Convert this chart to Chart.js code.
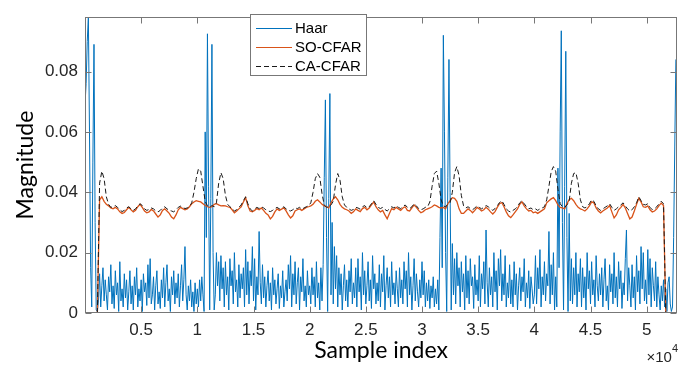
<!DOCTYPE html>
<html>
<head>
<meta charset="utf-8">
<script src="https://cdn.jsdelivr.net/npm/chart.js@4.4.1/dist/chart.umd.min.js"></script>
<style>
    html, body { margin: 0; padding: 0; background: #fff; }
    #wrap { width: 680px; height: 375px; }
</style>
</head>
<body>
<div id="wrap"><canvas id="graficoCfar" width="680" height="375"></canvas></div>
<script>
// all magnitudes below are in units of 1e-4
const unit = 1e-4;

// Haar detail magnitude, one value every 100 samples starting at 0
const haarStep = 100;
const haarMag = [
    690, 760, 900, 980, 600, 150, 20, 500, 890, 300, 10, 5, 40, 130, 20, 90, 150, 40, 110, 60,
    10, 120, 70, 160, 30, 90, 15, 140, 60, 100, 5, 170, 40, 80, 20, 130, 50, 110, 10, 70,
    140, 30, 90, 10, 120, 60, 150, 20, 80, 40, 110, 5, 130, 70, 100, 25, 160, 50, 180, 30,
    60, 120, 10, 90, 140, 30, 70, 15, 110, 50, 150, 20, 100, 160, 40, 80, 5, 120, 60, 140,
    30, 100, 50, 130, 20, 90, 160, 40, 110, 220, 60, 10, 90, 40, 110, 20, 70, 5, 100, 30,
    80, 20, 110, 40, 120, 60, 5, 600, 250, 925, 420, 10, 380, 890, 200, 10, 60, 200, 90, 170,
    40, 190, 80, 150, 20, 170, 60, 120, 10, 180, 90, 140, 30, 200, 70, 110, 20, 160, 50, 130,
    80, 150, 20, 210, 60, 170, 30, 140, 90, 220, 40, 180, 10, 120, 60, 270, 100, 30, 160, 50,
    120, 20, 90, 140, 40, 100, 10, 150, 60, 110, 30, 80, 130, 15, 90, 50, 140, 20, 70, 110,
    40, 160, 80, 190, 20, 130, 60, 170, 30, 100, 150, 10, 120, 70, 180, 40, 90, 20, 140, 60,
    90, 30, 150, 60, 120, 20, 170, 50, 100, 10, 150, 40, 160, 450, 706, 250, 5, 380, 727, 60,
    300, 30, 220, 80, 190, 20, 150, 60, 130, 10, 90, 160, 40, 110, 20, 140, 70, 180, 30, 100,
    50, 150, 20, 180, 70, 120, 10, 200, 60, 140, 30, 90, 170, 40, 110, 15, 190, 80, 130, 30,
    100, 40, 160, 20, 130, 70, 190, 10, 90, 150, 50, 120, 20, 170, 60, 100, 30, 140, 80, 20,
    150, 50, 110, 30, 170, 80, 140, 20, 200, 60, 120, 10, 90, 180, 40, 130, 70, 20, 110, 50,
    170, 60, 140, 20, 100, 40, 110, 15, 90, 50, 120, 20, 80, 30, 110, 10, 250, 480, 150, 920,
    600, 200, 5, 450, 840, 400, 10, 230, 60, 180, 30, 200, 90, 150, 20, 170, 70, 130, 10, 190,
    50, 140, 30, 180, 90, 120, 15, 160, 60, 110, 40, 190, 20, 130, 80, 170, 30, 275, 100, 20,
    150, 60, 120, 20, 200, 70, 140, 10, 180, 90, 210, 40, 130, 60, 190, 20, 100, 50, 160, 30,
    110, 20, 170, 60, 130, 10, 90, 150, 40, 120, 70, 180, 20, 100, 50, 140, 15, 120, 80, 30,
    60, 190, 30, 150, 80, 210, 20, 120, 60, 170, 40, 130, 90, 270, 30, 160, 60, 200, 10, 120,
    20, 480, 150, 600, 935, 300, 10, 420, 867, 250, 5, 330, 40, 180, 30, 150, 60, 200, 20, 130,
    70, 180, 20, 150, 50, 120, 10, 200, 80, 140, 30, 170, 60, 110, 20, 190, 90, 40, 130, 60,
    150, 20, 110, 180, 40, 90, 10, 160, 70, 130, 30, 200, 50, 120, 20, 170, 80, 140, 15, 100,
    60, 180, 275, 40, 150, 90, 20, 160, 50, 120, 10, 190, 70, 140, 30, 220, 80, 200, 40, 110,
    30, 210, 60, 180, 20, 150, 90, 40, 170, 20, 120, 60, 10, 90, 40, 110, 20, 80, 5, 100,
    120, 30, 5, 20, 250, 550, 840
];

// CFAR thresholds, one value every 200 samples starting at 1100
const cfarStart = 1100;
const cfarStep = 200;
const soCfar = [
    0, 375, 385, 370, 360, 355, 348, 345, 350, 345,
    335, 330, 333, 342, 350, 342, 335, 340, 352, 360,
    350, 338, 332, 335, 343, 338, 328, 318, 325, 340,
    345, 338, 330, 318, 312, 325, 342, 350, 346, 342,
    345, 352, 362, 368, 372, 370, 368, 362, 356, 352,
    350, 352, 360, 362, 358, 355, 356, 355, 352, 350,
    342, 332, 338, 345, 352, 368, 382, 355, 338, 335,
    340, 346, 342, 348, 340, 330, 325, 312, 320, 335,
    345, 340, 344, 348, 338, 325, 315, 322, 338, 342,
    345, 340, 345, 350, 352, 355, 360, 370, 375, 368,
    360, 355, 352, 348, 365, 378, 385, 375, 360, 350,
    345, 342, 338, 330, 335, 345, 340, 336, 346, 350,
    342, 348, 358, 368, 352, 342, 335, 340, 325, 312,
    330, 346, 342, 350, 345, 340, 348, 352, 340, 338,
    348, 358, 350, 340, 332, 336, 342, 345, 348, 352,
    358, 355, 350, 348, 350, 345, 362, 372, 382, 380,
    370, 345, 330, 330, 338, 345, 340, 332, 340, 350,
    345, 338, 342, 350, 344, 335, 328, 336, 350, 362,
    366, 352, 335, 322, 316, 325, 335, 345, 360, 368,
    355, 345, 338, 340, 332, 335, 330, 335, 340, 345,
    365, 372, 378, 382, 372, 358, 350, 348, 345, 362,
    375, 380, 372, 360, 350, 345, 342, 338, 345, 355,
    368, 365, 348, 338, 332, 338, 343, 348, 356, 335,
    315, 325, 342, 350, 360, 348, 330, 312, 318, 338,
    360, 380, 368, 352, 350, 355, 342, 335, 338, 345,
    356, 364, 356, 0
];
const caCfar = [
    0, 430, 470, 445, 385, 360, 350, 352, 356, 350,
    342, 336, 340, 348, 352, 345, 340, 345, 355, 362,
    356, 345, 340, 343, 348, 345, 338, 335, 340, 348,
    352, 345, 340, 338, 335, 342, 350, 354, 350, 346,
    348, 352, 365, 400, 445, 478, 470, 420, 370, 355,
    350, 356, 352, 365, 430, 465, 445, 390, 360, 352,
    345, 338, 342, 350, 358, 372, 385, 362, 345, 338,
    345, 350, 346, 352, 348, 342, 338, 336, 340, 346,
    350, 345, 348, 352, 345, 340, 338, 342, 348, 346,
    350, 344, 348, 352, 355, 365, 400, 445, 462, 450,
    395, 358, 350, 352, 358, 370, 425, 462, 440, 385,
    358, 350, 345, 340, 343, 350, 348, 344, 352, 356,
    348, 352, 362, 372, 360, 350, 346, 350, 343, 338,
    345, 352, 348, 355, 350, 346, 352, 358, 350, 346,
    352, 362, 355, 346, 342, 345, 350, 352, 368, 420,
    462, 470, 430, 375, 355, 352, 360, 365, 400, 465,
    485, 455, 390, 355, 348, 352, 346, 342, 348, 355,
    350, 345, 350, 356, 352, 345, 340, 346, 355, 366,
    372, 360, 345, 338, 334, 340, 345, 352, 365, 372,
    362, 352, 345, 348, 342, 345, 340, 345, 348, 352,
    375, 420, 468, 485, 470, 410, 362, 352, 350, 358,
    370, 430, 462, 465, 430, 375, 352, 348, 352, 362,
    375, 370, 355, 345, 340, 345, 350, 355, 362, 350,
    340, 345, 352, 358, 365, 355, 345, 338, 342, 352,
    365, 385, 372, 360, 358, 362, 350, 342, 345, 352,
    362, 370, 362, 0
];

const xTicks = [5000, 10000, 15000, 20000, 25000, 30000, 35000, 40000, 45000, 50000];
const yTicks = [0, 0.02, 0.04, 0.06, 0.08];

const toPoints = (vals, start, step) => vals.map((v, i) => ({ x: start + i * step, y: v * unit }));

const tickFont = { family: "'Liberation Sans', Arial, sans-serif", size: 17 };
const labelFont = { family: "Lato, 'Open Sans', sans-serif", size: 23 };

// box, inward tick marks, legend and the x10^4 exponent, matlab style
const matlabAxes = {
    id: "matlabAxes",
    afterDraw(chart) {
        const { ctx, chartArea: a, scales: { x, y } } = chart;
        const L = Math.round(a.left) + 0.5, R = Math.round(a.right) - 0.5;
        const T = Math.round(a.top) + 0.5, B = Math.round(a.bottom) - 0.5;
        ctx.save();
        ctx.strokeStyle = "#777";
        ctx.lineWidth = 1;
        ctx.strokeRect(L, T, R - L, B - T);
        ctx.beginPath();
        xTicks.forEach(v => {
            const px = Math.round(x.getPixelForValue(v)) + 0.5;
            ctx.moveTo(px, B); ctx.lineTo(px, B - 6);
            ctx.moveTo(px, T); ctx.lineTo(px, T + 6);
        });
        yTicks.forEach(v => {
            const py = Math.round(y.getPixelForValue(v)) + 0.5;
            ctx.moveTo(L, py); ctx.lineTo(L + 6, py);
            ctx.moveTo(R, py); ctx.lineTo(R - 6, py);
        });
        ctx.stroke();

        // legend
        const bx = 250.5, by = 14.5, bw = 116, bh = 61;
        ctx.fillStyle = "#fff";
        ctx.fillRect(bx, by, bw, bh);
        ctx.strokeStyle = "#777";
        ctx.strokeRect(bx, by, bw, bh);
        ctx.font = "15px 'Liberation Sans', Arial, sans-serif";
        ctx.textBaseline = "middle";
        ctx.textAlign = "left";
        chart.data.datasets.forEach((ds, i) => {
            const ry = 28.5 + i * 19;
            ctx.beginPath();
            ctx.strokeStyle = ds.borderColor;
            ctx.lineWidth = 1;
            ctx.setLineDash(ds.borderDash || []);
            ctx.moveTo(256, ry);
            ctx.lineTo(292, ry);
            ctx.stroke();
            ctx.setLineDash([]);
            ctx.fillStyle = "#000";
            ctx.fillText(ds.label, 295, ry);
        });

        // exponent label
        ctx.fillStyle = "#262626";
        ctx.textBaseline = "alphabetic";
        ctx.textAlign = "right";
        ctx.font = "11px 'Liberation Sans', Arial, sans-serif";
        const supW = ctx.measureText("4").width;
        ctx.fillText("4", 678, 352);
        ctx.font = "15px 'Liberation Sans', Arial, sans-serif";
        ctx.fillText("\u00d710", 678 - supW, 362);
        ctx.restore();
    }
};

document.addEventListener("DOMContentLoaded", () => {

    const ctx = document.getElementById("graficoCfar");

    new Chart(ctx, {
        type: "line",
        data: {
            datasets: [
                {
                    label: "Haar",
                    data: toPoints(haarMag, 0, haarStep),
                    borderColor: "#0072BD",
                    borderWidth: 1,
                    order: 3
                },
                {
                    label: "SO-CFAR",
                    data: toPoints(soCfar, cfarStart, cfarStep),
                    borderColor: "#D95319",
                    borderWidth: 1.3,
                    order: 2
                },
                {
                    label: "CA-CFAR",
                    data: toPoints(caCfar, cfarStart, cfarStep),
                    borderColor: "#1a1a1a",
                    borderWidth: 1,
                    borderDash: [5, 3],
                    order: 1
                }
            ]
        },
        options: {
            responsive: false,
            animation: false,
            devicePixelRatio: 1,
            layout: { padding: { top: 7, right: 3, left: 0, bottom: 0 } },
            elements: { point: { radius: 0 }, line: { tension: 0, fill: false } },
            plugins: {
                legend: { display: false },
                tooltip: { enabled: false }
            },
            scales: {
                x: {
                    type: "linear",
                    min: 0,
                    max: 52700,
                    afterBuildTicks: s => { s.ticks = xTicks.map(v => ({ value: v })); },
                    afterFit: s => { s.height = 62; },
                    grid: { display: false, drawTicks: false },
                    border: { display: false },
                    ticks: {
                        autoSkip: false,
                        maxRotation: 0,
                        padding: 7,
                        color: "#262626",
                        font: tickFont,
                        callback: v => String(v / 10000)
                    },
                    title: {
                        display: true,
                        text: "Sample index",
                        color: "#000",
                        font: labelFont,
                        padding: { top: 0, bottom: 11 }
                    }
                },
                y: {
                    min: 0,
                    max: 0.098,
                    afterBuildTicks: s => { s.ticks = yTicks.map(v => ({ value: v })); },
                    afterFit: s => { s.width = 85; },
                    grid: { display: false, drawTicks: false },
                    border: { display: false },
                    ticks: {
                        padding: 7,
                        color: "#262626",
                        font: tickFont,
                        callback: v => (v === 0 ? "0" : v.toFixed(2))
                    },
                    title: {
                        display: true,
                        text: "Magnitude",
                        color: "#000",
                        font: labelFont,
                        padding: { top: 12, bottom: 0 }
                    }
                }
            }
        },
        plugins: [matlabAxes]
    });

});
</script>
</body>
</html>
